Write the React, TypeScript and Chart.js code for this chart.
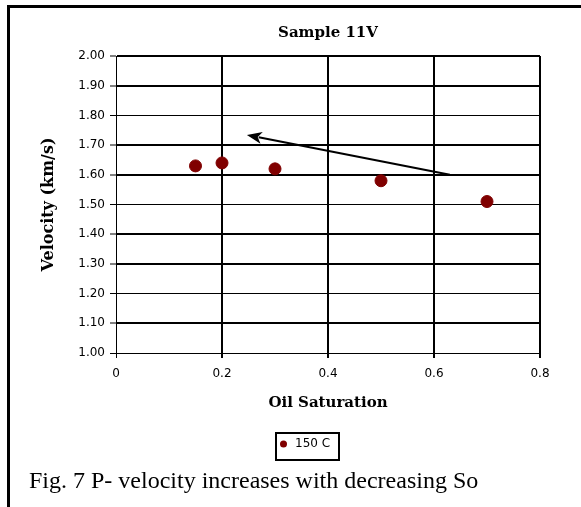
import React, { useEffect, useRef } from "react";
import { Chart, registerables } from "chart.js";

Chart.register(...registerables);

const chartTitle = "Sample 11V";
const xAxisTitle = "Oil Saturation";
const yAxisTitle = "Velocity (km/s)";
const seriesLabel = "150 C";
const caption = "Fig. 7 P- velocity increases with decreasing So";

const oilSaturation = [0.15, 0.2, 0.3, 0.5, 0.7];
const velocity = [1.63, 1.64, 1.62, 1.58, 1.51];

const xTickValues = [0, 0.2, 0.4, 0.6, 0.8];
const xTickLabels = ["0", "0.2", "0.4", "0.6", "0.8"];
const yTickValues = [1.0, 1.1, 1.2, 1.3, 1.4, 1.5, 1.6, 1.7, 1.8, 1.9, 2.0];
const yTickLabels = ["1.00", "1.10", "1.20", "1.30", "1.40", "1.50", "1.60", "1.70", "1.80", "1.90", "2.00"];

const arrowFrom = [0.63, 1.6];
const arrowTo = [0.247, 1.734];

// style constants
const MARKER = "#800000";
const yGridWidths = [1, 2, 1, 2, 2, 1, 2, 2, 1, 2, 2];
const titleFont = { family: "'DejaVu Serif', serif", size: 15, weight: "bold" as const };
const yTitleFont = { family: "'DejaVu Serif', serif", size: 16, weight: "bold" as const };
const tickFont = { family: "'DejaVu Sans', sans-serif", size: 12 };

const arrowPlugin = {
  id: "arrowAnnotation",
  afterDatasetsDraw(chart: any) {
    const { ctx, scales } = chart;
    const x = scales.x;
    const y = scales.y;
    const x0 = x.getPixelForValue(arrowFrom[0]);
    const y0 = y.getPixelForValue(arrowFrom[1]);
    const x1 = x.getPixelForValue(arrowTo[0]);
    const y1 = y.getPixelForValue(arrowTo[1]);
    const ang = Math.atan2(y1 - y0, x1 - x0);
    const headLen = 15;
    const headHalf = 6;
    const bx = x1 - headLen * Math.cos(ang);
    const by = y1 - headLen * Math.sin(ang);
    ctx.save();
    ctx.strokeStyle = "#000";
    ctx.fillStyle = "#000";
    ctx.lineWidth = 2;
    ctx.beginPath();
    ctx.moveTo(x0, y0);
    ctx.lineTo(bx + 3 * Math.cos(ang), by + 3 * Math.sin(ang));
    ctx.stroke();
    ctx.beginPath();
    ctx.moveTo(x1, y1);
    ctx.lineTo(bx + headHalf * Math.sin(ang), by - headHalf * Math.cos(ang));
    ctx.lineTo(bx + 4 * Math.cos(ang), by + 4 * Math.sin(ang));
    ctx.lineTo(bx - headHalf * Math.sin(ang), by + headHalf * Math.cos(ang));
    ctx.closePath();
    ctx.fill();
    ctx.restore();
  },
};

const legendBoxPlugin = {
  id: "legendBox",
  afterDraw(chart: any) {
    const { ctx } = chart;
    const ds = chart.data.datasets[0];
    ctx.save();
    ctx.strokeStyle = "#000";
    ctx.lineWidth = 2;
    ctx.strokeRect(276, 433, 63, 27);
    ctx.fillStyle = ds.backgroundColor;
    ctx.beginPath();
    ctx.arc(283.5, 444, 3.5, 0, Math.PI * 2);
    ctx.fill();
    ctx.fillStyle = "#000";
    ctx.font = `${tickFont.size}px ${tickFont.family}`;
    ctx.textBaseline = "middle";
    ctx.textAlign = "left";
    ctx.fillText(ds.label, 295, 444);
    ctx.restore();
  },
};

export default function App() {
  const canvasRef = useRef<HTMLCanvasElement | null>(null);

  useEffect(() => {
    if (!canvasRef.current) return;
    const chart = new Chart(canvasRef.current, {
      type: "scatter",
      data: {
        datasets: [
          {
            label: seriesLabel,
            data: oilSaturation.map((v, i) => ({ x: v, y: velocity[i] })),
            backgroundColor: MARKER,
            borderColor: MARKER,
            pointStyle: "circle",
            pointRadius: 6,
            pointBorderWidth: 1,
          },
        ],
      },
      options: {
        animation: false,
        responsive: false,
        events: [],
        layout: { padding: { left: 30, right: 41, top: 0, bottom: 58 } },
        plugins: {
          legend: { display: false },
          tooltip: { enabled: false },
          title: {
            display: true,
            text: chartTitle,
            color: "#000",
            font: titleFont,
            fullSize: false,
            padding: { top: 24, bottom: 14 },
          },
        },
        scales: {
          x: {
            type: "linear",
            min: 0,
            max: 0.8,
            afterBuildTicks: (scale: any) => {
              scale.ticks = xTickValues.map((v) => ({ value: v }));
            },
            afterFit: (scale: any) => {
              scale.height = 59;
            },
            ticks: {
              color: "#000",
              font: tickFont,
              padding: 9,
              maxRotation: 0,
              callback: (_v: any, i: number) => xTickLabels[i],
            },
            grid: {
              color: "#000",
              lineWidth: (c: any) => (c.index === 0 ? 1 : 2),
              tickLength: 5,
            },
            border: { display: true, color: "#000", width: 1 },
            title: {
              display: true,
              text: xAxisTitle,
              color: "#000",
              font: titleFont,
              padding: { top: 4, bottom: 0 },
            },
          },
          y: {
            type: "linear",
            min: 1,
            max: 2,
            afterBuildTicks: (scale: any) => {
              scale.ticks = yTickValues.map((v) => ({ value: v }));
            },
            afterFit: (scale: any) => {
              scale.width = 86;
            },
            ticks: {
              color: "#000",
              font: tickFont,
              padding: 5,
              callback: (_v: any, i: number) => yTickLabels[i],
            },
            grid: {
              color: "#000",
              lineWidth: (c: any) => yGridWidths[c.index] ?? 2,
              tickWidth: 1,
              tickLength: 6,
            },
            border: { display: true, color: "#000", width: 1 },
            title: {
              display: true,
              text: yAxisTitle,
              color: "#000",
              font: yTitleFont,
              padding: { top: 9, bottom: 0 },
            },
          },
        },
      },
      plugins: [arrowPlugin, legendBoxPlugin],
    });
    return () => chart.destroy();
  }, []);

  return (
    <div style={{ position: "absolute", left: 0, top: 0, width: 581, height: 507, background: "#fff", overflow: "hidden" }}>
      <div
        style={{
          position: "absolute",
          left: 7,
          top: 5,
          width: 581,
          height: 510,
          borderLeft: "3px solid #000",
          borderTop: "3px solid #000",
          boxSizing: "border-box",
        }}
      />
      <canvas ref={canvasRef} width={581} height={470} style={{ position: "absolute", left: 0, top: 0 }} />
      <div
        style={{
          position: "absolute",
          left: 29,
          top: 467,
          fontFamily: "'Liberation Serif', 'Times New Roman', serif",
          fontSize: 24,
          whiteSpace: "nowrap",
          color: "#000",
        }}
      >
        {caption}
      </div>
    </div>
  );
}
